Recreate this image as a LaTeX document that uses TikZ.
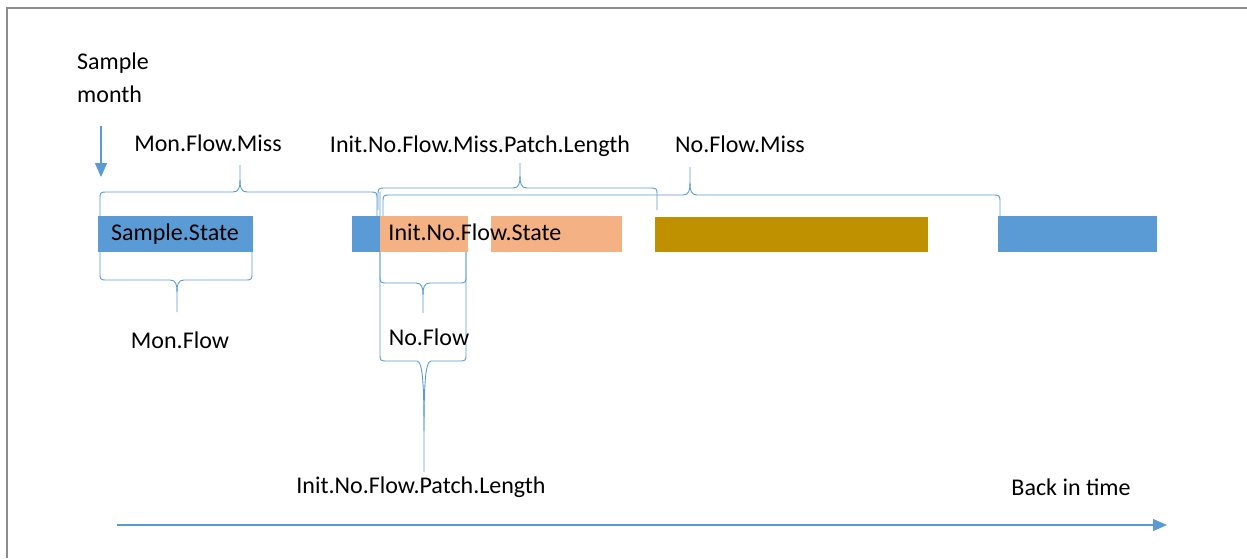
\documentclass[tikz,border=0pt]{standalone}
\usepackage{fontspec}
\setmainfont{Carlito}
\usetikzlibrary{arrows.meta}
\definecolor{wblue}{HTML}{5B9BD5}
\definecolor{worange}{HTML}{F4B183}
\definecolor{wgold}{HTML}{BF9000}
\definecolor{wgray}{HTML}{8C8C8C}
% horizontal brace: #1 x1, #2 x2, #3 y of line, #4 y of left end, #5 x of tip, #6 y of tip,
% #7 direction of ends (+1 down, -1 up), #8 y of right end, #9 length of the tip curve
\newcommand{\mybrc}[9]{%
  \draw[brc] ({#1},{#4}) -- ({#1},{#3+(#7)*8}) .. controls ({#1},{#3}) .. ({#1+8},{#3}) -- ({#5-7},{#3}) .. controls ({#5-1},{#3}) and ({#5},{#3-(#7)*(#9)*0.4}) .. ({#5},{#3-(#7)*(#9)}) -- ({#5},{#6});
  \draw[brc] ({#2},{#8}) -- ({#2},{#3+(#7)*8}) .. controls ({#2},{#3}) .. ({#2-8},{#3}) -- ({#5+7},{#3}) .. controls ({#5+1},{#3}) and ({#5},{#3-(#7)*(#9)*0.4}) .. ({#5},{#3-(#7)*(#9)});
}
\begin{document}
\begin{tikzpicture}[x=1pt,y=-1pt,
  txt/.style={font=\fontsize{24}{33}\selectfont, inner sep=0pt, text=black},
  box/.style={anchor=north west, minimum height=36pt, inner sep=0pt, draw=none},
  brc/.style={draw=wblue, line width=0.9pt},
  arr/.style={draw=wblue, line width=1.2pt, -{Triangle[width=12pt,length=14pt]}}]
\useasboundingbox (0,0) rectangle (1247,558);
% frame
\draw[wgray, line width=2pt] (1247,8) -- (7,8) -- (7,558);

% braces
\mybrc{100}{377}{192}{216}{240}{165}{1}{216}{12}
\mybrc{378}{657}{188}{210}{520}{163}{1}{210}{12}
\mybrc{383}{1000}{195}{216}{690}{167}{1}{216}{12}
\mybrc{100}{252}{280}{252}{177}{312}{-1}{252}{12}
\mybrc{380}{466}{283}{252}{423}{313}{-1}{252}{12}
\mybrc{380}{466}{361}{192}{424}{472}{-1}{252}{70}

% boxes
\node[box, fill=wblue, minimum width=155pt] (ss) at (98,216) {};
\node[box, fill=wblue, minimum width=28pt] (b2) at (352,216) {};
\node[box, fill=worange, minimum width=88pt] (o1) at (380,216) {};
\node[box, fill=worange, minimum width=131pt] (o2) at (491,216) {};
\node[box, fill=wgold, minimum width=273pt, minimum height=35pt] (g1) at (655,217) {};
\node[box, fill=wblue, minimum width=159pt] (b3) at (998,216) {};

% texts
\node[txt, anchor=base west, align=left] (sm) at (77,102) {Sample\\month};
\node[txt, anchor=base] (mfm) at (208,151) {Mon.Flow.Miss};
\node[txt, anchor=base] (inpl) at (480,152) {Init.No.Flow.Miss.Patch.Length};
\node[txt, anchor=base] (nfm) at (740,152) {No.Flow.Miss};
\node[txt, anchor=base] (sst) at (175,240) {Sample.State};
\node[txt, anchor=base] (inst) at (475,240) {Init.No.Flow.State};
\node[txt, anchor=base] (mf) at (180,348) {Mon.Flow};
\node[txt, anchor=base] (nf) at (429,345) {No.Flow};
\node[txt, anchor=base] (ipl) at (421,493) {Init.No.Flow.Patch.Length};
\node[txt, anchor=base] (bit) at (1071,495) {Back in time};

% arrows
\coordinate (a1) at (101,126);
\coordinate (a2) at (101,177);
\draw[arr] (a1) -- (a2);
\coordinate (t1) at (117,525);
\coordinate (t2) at (1167,525);
\draw[arr] (t1) -- (t2);
\end{tikzpicture}
\end{document}
